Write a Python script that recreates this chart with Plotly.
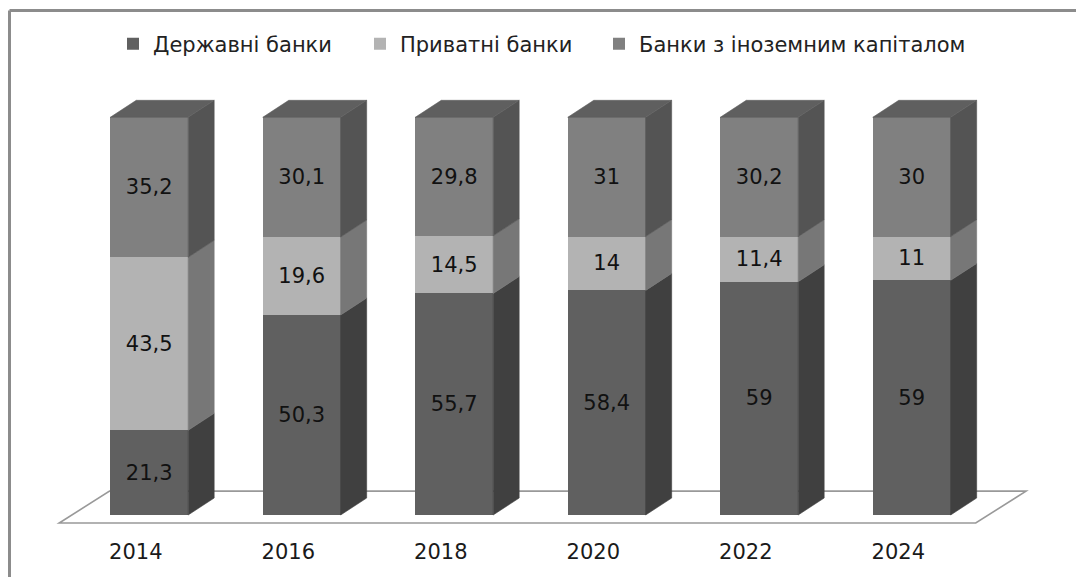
import plotly.graph_objects as go

# ---------------- data ----------------
years = ["2014", "2016", "2018", "2020", "2022", "2024"]
state_banks = [21.3, 50.3, 55.7, 58.4, 59, 59]
private_banks = [43.5, 19.6, 14.5, 14, 11.4, 11]
foreign_banks = [35.2, 30.1, 29.8, 31, 30.2, 30]
series_names = ["Державні банки", "Приватні банки", "Банки з іноземним капіталом"]

# ---------------- style ----------------
FRONT = ["#606060", "#b3b3b3", "#808080"]
SIDE = ["#404040", "#777777", "#545454"]
TOP = "#5f5f5f"
BAR_W = 0.511          # bar width in category units
DX = 0.1705            # 3D depth offset (category units)
DY = 4.27              # 3D depth offset (percent units)
LABEL_SHIFT = 0.088    # year labels sit slightly left of bar centres
FONT = "DejaVu Sans"
LEGEND_TEXT_PX = [153, 400, 639]   # pixel x where each legend text starts

series = [state_banks, private_banks, foreign_banks]
idx = list(range(len(years)))
totals = [sum(s[i] for s in series) for i in idx]
pct = [[s[i] / totals[i] * 100 for i in idx] for s in series]
legend_ids = ["legend", "legend2", "legend3"]


def fmt(v):
    return f"{v:g}".replace(".", ",")


fig = go.Figure()

# front faces (100% stacked)
for k, s in enumerate(series):
    fig.add_trace(go.Bar(
        x=idx, y=s, name=series_names[k], width=BAR_W, legend=legend_ids[k],
        marker=dict(color=FRONT[k], line=dict(width=0)),
        text=[fmt(v) for v in s], textposition="inside",
        insidetextanchor="middle", textangle=0,
        textfont=dict(family=FONT, size=21, color="#111111"),
        hoverinfo="skip",
    ))

# side faces
base = [0.0] * len(idx)
for k in range(len(series)):
    xs, ys = [], []
    for i in idx:
        b = base[i]
        t = b + pct[k][i]
        xr = i + BAR_W / 2
        xs += [xr, xr + DX, xr + DX, xr, xr, None]
        ys += [b, b + DY, t + DY, t, b, None]
    base = [base[i] + pct[k][i] for i in idx]
    fig.add_trace(go.Scatter(
        x=xs, y=ys, mode="lines", fill="toself", fillcolor=SIDE[k],
        line=dict(width=0.6, color=SIDE[k]), showlegend=False, hoverinfo="skip",
    ))

# top faces
xs, ys = [], []
for i in idx:
    xl, xr, t = i - BAR_W / 2, i + BAR_W / 2, base[i]
    xs += [xl, xl + DX, xr + DX, xr, xl, None]
    ys += [t, t + DY, t + DY, t, t, None]
fig.add_trace(go.Scatter(
    x=xs, y=ys, mode="lines", fill="toself", fillcolor=TOP,
    line=dict(width=0.6, color=TOP), showlegend=False, hoverinfo="skip",
))

# floor (decoration)
n = len(years)
fl_l, fl_r, fl_front, fl_back, fl_dx = -0.59, n - 1 + 0.42, -2.0, 6.0, 0.33
fig.add_shape(
    type="path", xref="x", yref="y", layer="below",
    path=(f"M {fl_l},{fl_front} L {fl_r},{fl_front} L {fl_r + fl_dx},{fl_back} "
          f"L {fl_l + fl_dx},{fl_back} Z"),
    line=dict(color="#999999", width=1.6), fillcolor="white",
)

# outer frame (top + left edges visible)
L, R, T, B = 40, 16, 90, 42
W, H = 1076 - L - R, 577 - T - B
fx = (9.5 - L) / W
fy = 1 + (T - 10.5) / H
fig.add_shape(type="line", xref="paper", yref="paper", x0=fx, x1=1.2, y0=fy, y1=fy,
              line=dict(color="#8c8c8c", width=3))
fig.add_shape(type="line", xref="paper", yref="paper", x0=fx, x1=fx, y0=-0.3, y1=fy,
              line=dict(color="#8c8c8c", width=3))

x0 = (L - 149.2) / 152.5
x1 = x0 + W / 152.5
y0 = -(B - 22) / 3.977
y1 = y0 + H / 3.977

legend_common = dict(orientation="h", xanchor="left", y=1 + (T - 44) / H,
                     yanchor="middle", bgcolor="rgba(0,0,0,0)",
                     font=dict(family=FONT, size=21, color="#222222"))
legends = {}
for k, lid in enumerate(legend_ids):
    legends[lid] = dict(legend_common, x=(LEGEND_TEXT_PX[k] - 40 - L) / W)

fig.update_layout(
    width=1076, height=577,
    margin=dict(l=L, r=R, t=T, b=B),
    barmode="stack", barnorm="percent",
    paper_bgcolor="white", plot_bgcolor="white",
    showlegend=True,
    xaxis=dict(range=[x0, x1], tickvals=[i - LABEL_SHIFT for i in idx], ticktext=years,
               showgrid=False, zeroline=False, showline=False, ticks="",
               ticklabelstandoff=2,
               tickfont=dict(family=FONT, size=21, color="#1a1a1a")),
    yaxis=dict(range=[y0, y1], visible=False, showgrid=False, zeroline=False),
    font=dict(family=FONT),
    **legends,
)

fig.write_html("out.html")
